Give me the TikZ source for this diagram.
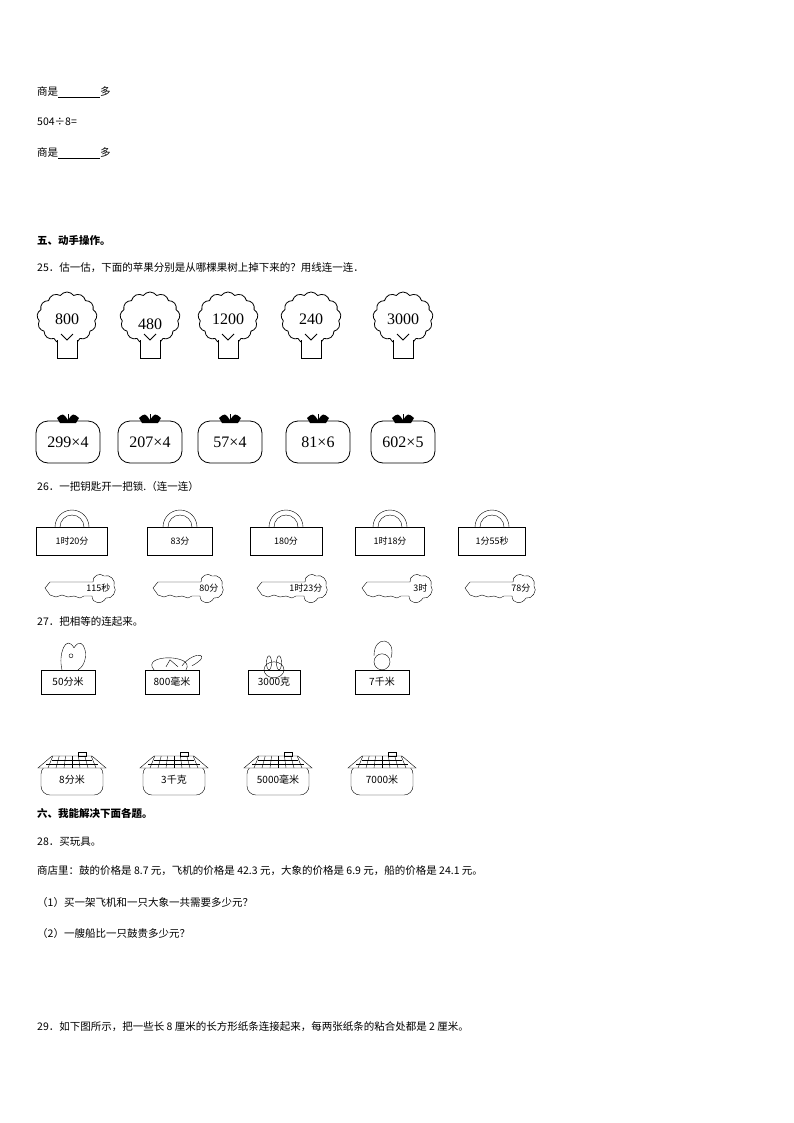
\documentclass[tikz,border=0pt]{standalone}
\usepackage{fontspec}
\setmainfont{Liberation Serif}
\newfontfamily\cjk{Noto Sans CJK SC}
\usetikzlibrary{shapes.symbols}
\begin{document}
\begin{tikzpicture}[x=1pt,y=-1pt,
  txt/.style={anchor=west,inner sep=0pt,font=\fontsize{10.5}{12}\selectfont\cjk},
  crown/.style={cloud,cloud puffs=13,cloud puff arc=110,draw,thick,minimum width=60,minimum height=52,aspect=1.1},
  apple/.style={draw,thick,rounded corners=12,minimum width=64,minimum height=42},
  lockbox/.style={draw,minimum height=28,font=\fontsize{9}{10}\selectfont\cjk},
  keylab/.style={font=\fontsize{9}{10}\selectfont\cjk,anchor=east},
  tag/.style={draw,minimum height=24,font=\fontsize{10}{11}\selectfont\cjk},
  pot/.style={draw,rounded corners=9,minimum width=62,minimum height=30,font=\fontsize{10}{11}\selectfont\cjk}]
\useasboundingbox (0,0) rectangle (794,1123);
\fill[white] (0,0) rectangle (794,1123);
\node[txt] (l1) at (37,92) {商是\underline{\hspace{42pt}}多};
\node[txt] (l2) at (37,122) {504÷8=};
\node[txt] (l3) at (37,153) {商是\underline{\hspace{42pt}}多};
\node[txt,font=\fontsize{10.5}{12}\selectfont\cjk\bfseries] (h5) at (37,240) {五、动手操作。};
\node[txt] (q25) at (37,268) {25．估一估，下面的苹果分别是从哪棵果树上掉下来的？用线连一连．};
% trees
\foreach \x/\v/\n in {67/800/1,150/480/2,228/1200/3,311/240/4,403/3000/5}{
  \node[crown,fill=white] (t\n) at (\x,318) {};
  \node (tv\n) at (\x,\ifnum\n=2 324\else 319\fi) {\fontsize{16}{18}\selectfont\v};
  \draw[thick,fill=white] (\x-10,340) -- (\x-10,358) -- (\x+10,358) -- (\x+10,340);
  \draw[thick] (\x-6,334) -- (\x,340) -- (\x+6,334);
}
% apples
\foreach \x/\n in {68/1,150/2,230/3,318/4,403/5}{
  \node[apple] (a\n) at (\x,442) {};
  \fill (\x-11,418) .. controls (\x-5,413) .. (\x,420) .. controls (\x+5,413) .. (\x+11,418) -- (\x+8,423) -- (\x-8,423) -- cycle;
  \draw[thick] (\x,414) -- (\x,423);
}
\node[font=\fontsize{16}{18}\selectfont] at (a1) {299×4};
\node[font=\fontsize{16}{18}\selectfont] at (a2) {207×4};
\node[font=\fontsize{16}{18}\selectfont] at (a3) {57×4};
\node[font=\fontsize{16}{18}\selectfont] at (a4) {81×6};
\node[font=\fontsize{16}{18}\selectfont] at (a5) {602×5};
\node[txt] (q26) at (37,487) {26．一把钥匙开一把锁.（连一连）};
% locks
\foreach \x/\w/\t/\n in {72/71/1时20分/1,180/65/83分/2,286/72/180分/3,390/69/1时18分/4,492/67/1分55秒/5}{
  \draw (\x-17,527) arc (180:360:17); \draw (\x-12,527) arc (180:360:12);
  \node[lockbox,minimum width=\w] (k\n) at (\x,541) {\t};
}
% keys
\foreach \x/\t/\n in {80/115秒/1,188/80分/2,292/1时23分/3,397/3时/4,500/78分/5}{
  \draw (\x-35,588) -- (\x-30,582) -- (\x+13,582) .. controls (\x+12,576) and (\x+20,572) .. (\x+24,576)
    .. controls (\x+30,574) and (\x+36,580) .. (\x+34,586) .. controls (\x+38,590) and (\x+32,600) .. (\x+26,598)
    .. controls (\x+22,605) and (\x+12,604) .. (\x+12,596) -- (\x+4,596) -- (\x,598) -- (\x-6,596) -- (\x-12,597) -- (\x-18,595) -- (\x-24,597) -- (\x-30,595) -- cycle;
  \node[keylab] (ky\n) at (\x+34,588) {\t};
}
\node[txt] (q27) at (37,622) {27．把相等的连起来。};
% animals tags
\foreach \x/\w/\t/\n in {68/54/50分米/1,172/54/800毫米/2,274/52/3000克/3,382/54/7千米/4}{
  \node[tag,minimum width=\w] (g\n) at (\x,682) {\t};
}
\draw (g1.north)+(-6,0) .. controls +(-4,-16) and +(-8,-14) .. +(6,-22) .. controls +(10,-16) and +(14,-8) .. +(10,0);
\draw (g1.north)+(3,-14) circle (2);
\draw (g2.north)+(-18,0) .. controls +(-14,-16) and +(10,-16) .. +(14,0);
\draw (g2.north)+(10,-4) .. controls +(12,-16) and +(22,-12) .. +(20,-4);
\draw (g2.north)+(-6,-3) -- +(-2,-10) -- +(6,-3);
\draw (g3.north) ellipse (10 and 8);
\draw (g3.north)+(-5,-7) ellipse (2.5 and 7);\draw (g3.north)+(5,-7) ellipse (2.5 and 7);
\draw (g4.north)+(0,-8) circle (8);
\draw (g4.north)+(-8,-14) .. controls +(0,-22) and +(6,-20) .. +(9,-12);
% houses
\foreach \x/\t/\n in {72/8分米/1,174/3千克/2,278/5000毫米/3,382/7000米/4}{
  \node[pot] (p\n) at (\x,780) {\t};
  \draw[fill=white] (\x-34,768) -- (\x-20,756) -- (\x+20,756) -- (\x+34,768) -- cycle;
  \draw (\x-26,764) -- (\x+26,764) (\x-20,760) -- (\x+20,760);
  \foreach \k in {-24,-16,...,24} {\draw (\x+\k,768) -- (\x+\k*0.8,756);}
  \draw (\x+6,756) rectangle (\x+14,752);
}
\node[txt,font=\fontsize{10.5}{12}\selectfont\cjk\bfseries] (h6) at (37,813) {六、我能解决下面各题。};
\node[txt] (q28) at (37,842) {28．买玩具。};
\node[txt] (s1) at (37,871) {商店里：鼓的价格是 8.7 元，飞机的价格是 42.3 元，大象的价格是 6.9 元，船的价格是 24.1 元。};
\node[txt] (s2) at (37,902) {（1）买一架飞机和一只大象一共需要多少元？};
\node[txt] (s3) at (37,933) {（2）一艘船比一只鼓贵多少元？};
\node[txt] (q29) at (37,1027) {29．如下图所示，把一些长 8 厘米的长方形纸条连接起来，每两张纸条的粘合处都是 2 厘米。};
\end{tikzpicture}
\end{document}
